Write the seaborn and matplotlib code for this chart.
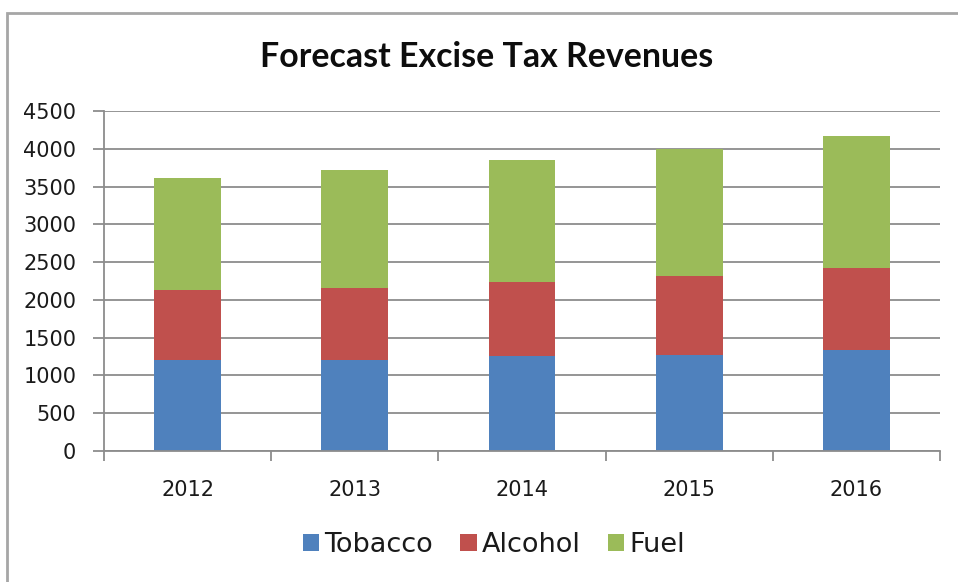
import matplotlib
matplotlib.use("Agg")
import matplotlib.pyplot as plt
from matplotlib.patches import Patch, Rectangle
from matplotlib.ticker import FixedLocator
import seaborn as sns
import numpy as np

years = ["2012", "2013", "2014", "2015", "2016"]
tobacco = [1200, 1200, 1253, 1275, 1332]
alcohol = [926, 953, 979, 1036, 1085]
fuel = [1482, 1561, 1614, 1689, 1751]
series_names = ["Tobacco", "Alcohol", "Fuel"]
series_colors = ["#4F81BD", "#C0504D", "#9BBB59"]
title = "Forecast Excise Tax Revenues"
yticks = list(range(0, 4501, 500))

sns.set_theme(style="white")
plt.rcParams["font.family"] = ["DejaVu Sans"]

W, H = 958, 582
fig = plt.figure(figsize=(W / 100, H / 100), dpi=100)
ax = fig.add_axes([104 / W, 1 - 451 / H, (940 - 104) / W, (451 - 111) / H])

tob = np.array(tobacco)
alc = np.array(alcohol)
fu = np.array(fuel)
layers = [
    (tob + alc + fu, series_colors[2]),
    (tob + alc, series_colors[1]),
    (tob, series_colors[0]),
]
for vals, col in layers:
    sns.barplot(x=years, y=vals, color=col, saturation=1, width=0.4,
                errorbar=None, ax=ax, linewidth=0, zorder=3)
if ax.get_legend() is not None:
    ax.get_legend().remove()

ax.set_xlim(-0.5, len(years) - 0.5)
ax.set_ylim(0, 4500)
ax.set_yticks(yticks)
ax.set_yticklabels([str(v) for v in yticks])
ax.yaxis.grid(True, color="#8c8c8c", linewidth=1.3)
ax.set_axisbelow(True)
ax.set_xlabel("")
ax.set_ylabel("")

for s in ["top", "right"]:
    ax.spines[s].set_visible(False)
for s in ["left", "bottom"]:
    ax.spines[s].set_color("#8c8c8c")
    ax.spines[s].set_linewidth(1.3)
    ax.spines[s].set_zorder(4)

ax.xaxis.set_minor_locator(FixedLocator(np.arange(-0.5, len(years), 1.0)))
ax.tick_params(axis="x", which="major", length=0, pad=21, labelsize=15, labelcolor="#1a1a1a")
ax.tick_params(axis="x", which="minor", length=7, width=1.3, color="#8c8c8c", direction="out", bottom=True)
ax.tick_params(axis="y", which="major", length=8, width=1.3, color="#8c8c8c", direction="out",
               left=True, pad=12, labelsize=15, labelcolor="#1a1a1a")

fig.text(487 / W, 1 - 57 / H, title, ha="center", va="center",
         fontsize=24.4, fontweight="bold", family=["Lato", "DejaVu Sans"], color="#0d0d0d")

handles = [Patch(facecolor=c, edgecolor="none") for c in series_colors]
fig.legend(handles, series_names, loc="center", bbox_to_anchor=(494 / W, 1 - 545 / H),
           ncol=3, frameon=False, fontsize=19.5, handlelength=0.6, handleheight=0.6,
           handletextpad=0.2, columnspacing=1.0, labelcolor="#1a1a1a")

fig.patches.append(Rectangle((7 / W, -0.2), 1.5, 1.2 - 13 / H, transform=fig.transFigure,
                             fill=False, edgecolor="#a6a6a6", linewidth=2, figure=fig))

fig.savefig("out.png", dpi=100)
